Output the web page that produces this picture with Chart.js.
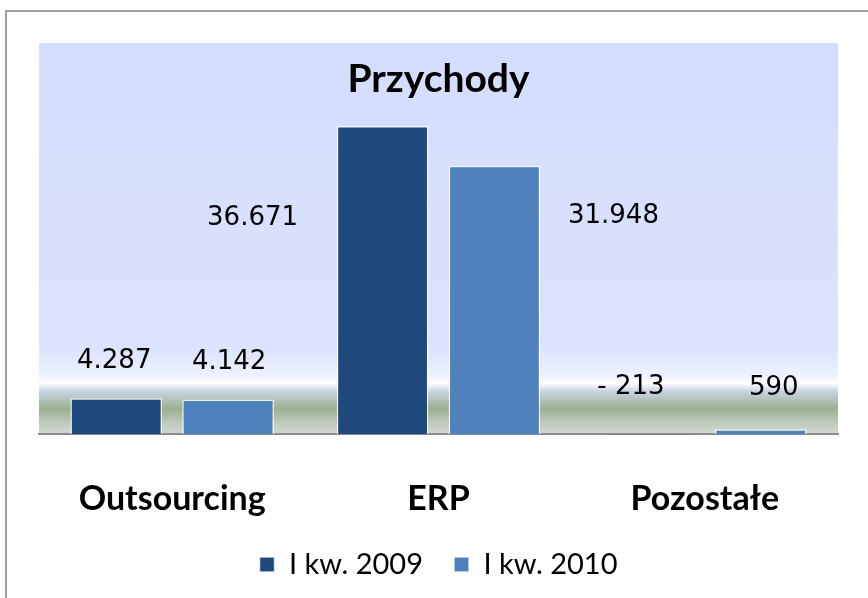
<!DOCTYPE html>
<html>
<head>
<meta charset="utf-8">
<script src="https://cdn.jsdelivr.net/npm/chart.js@4.4.1/dist/chart.umd.min.js"></script>
<style>
  body { margin: 0; background: #fff; }
  #wrap { position: relative; width: 868px; height: 598px; overflow: hidden; }
  #frame { position: absolute; left: 5px; top: 10px; width: 900px; height: 700px;
           border-top: 2px solid #a0a0a0; border-left: 2px solid #a0a0a0; }
  canvas { position: absolute; left: 0; top: 0; }
</style>
</head>
<body>
<div id="wrap">
  <div id="frame"></div>
  <canvas id="przychody" width="868" height="598"></canvas>
</div>
<script>
const categories = ['Outsourcing', 'ERP', 'Pozostałe'];
const seriesNames = ['I kw. 2009', 'I kw. 2010'];
const q2009 = [4287, 36671, -213];
const q2010 = [4142, 31948, 590];

// where each value label sits relative to its bar (hand-placed in the original)
const labelShift2009 = [[-2, -37, 'top'], [-130, 92, 'top'], [-18, -47, 'base']];
const labelShift2010 = [[1, -37, 'top'], [119, 51, 'top'], [13, -41, 'top']];

function fmt(v) {
  const s = Math.abs(v).toLocaleString('de-DE');
  return v < 0 ? '- ' + s : s;
}

const backdrop = {
  id: 'backdrop',
  beforeDraw(chart) {
    const { ctx, chartArea } = chart;
    const top = 43;
    const h = chartArea.bottom - top;
    const g = ctx.createLinearGradient(0, top, 0, chartArea.bottom);
    g.addColorStop(0, '#d4ddfd');
    g.addColorStop(0.78, '#dbe3fd');
    g.addColorStop(0.85, '#eef2ff');
    g.addColorStop(0.87, '#ffffff');
    g.addColorStop(0.89, '#c9d3e3');
    g.addColorStop(0.935, '#9bb08e');
    g.addColorStop(0.975, '#c4ccc2');
    g.addColorStop(1, '#d2d8d0');
    ctx.save();
    ctx.fillStyle = g;
    ctx.fillRect(chartArea.left, top, chartArea.right - chartArea.left, h);
    ctx.restore();
  }
};

const valueLabels = {
  id: 'valueLabels',
  afterDatasetsDraw(chart) {
    const { ctx } = chart;
    const shifts = [labelShift2009, labelShift2010];
    ctx.save();
    ctx.font = '26px "DejaVu Sans"';
    ctx.fillStyle = '#000';
    ctx.textAlign = 'center';
    ctx.textBaseline = 'middle';
    chart.data.datasets.forEach((ds, i) => {
      chart.getDatasetMeta(i).data.forEach((bar, j) => {
        const [dx, dy, from] = shifts[i][j];
        const y0 = from === 'base' ? bar.base : Math.min(bar.y, bar.base);
        ctx.fillText(fmt(ds.data[j]), bar.x + dx, y0 + dy);
      });
    });
    ctx.restore();
  }
};

new Chart(document.getElementById('przychody'), {
  type: 'bar',
  data: {
    labels: categories,
    datasets: [{
      label: seriesNames[0],
      data: q2009,
      backgroundColor: '#1f497d',
      borderColor: 'rgba(255,255,255,0.75)',
      borderWidth: 1.5
    }, {
      label: seriesNames[1],
      data: q2010,
      backgroundColor: '#4f81bd',
      borderColor: 'rgba(255,255,255,0.75)',
      borderWidth: 1.5
    }]
  },
  options: {
    responsive: false,
    animation: false,
    categoryPercentage: 0.84,
    barPercentage: 0.82,
    layout: { padding: { left: 39, right: 30, top: 43, bottom: 9 } },
    scales: {
      x: {
        grid: { display: false },
        border: { color: '#8c8c8c', width: 2 },
        afterFit(scale) { scale.height -= 36; },
        ticks: {
          color: '#000',
          padding: 36,
          font: { family: 'Lato', size: 34, weight: 'bold' }
        }
      },
      y: {
        display: false,
        min: 0,
        max: 38000
      }
    },
    plugins: {
      title: {
        display: true,
        text: 'Przychody',
        color: '#000',
        padding: { top: 13, bottom: 12 },
        font: { family: 'Lato', size: 39, weight: 'bold' }
      },
      legend: {
        position: 'bottom',
        maxHeight: 80,
        labels: {
          color: '#000',
          boxWidth: 15,
          boxHeight: 15,
          padding: 31,
          font: { family: 'Lato', size: 29 }
        }
      },
      tooltip: { enabled: false }
    }
  },
  plugins: [backdrop, valueLabels]
});
</script>
</body>
</html>
